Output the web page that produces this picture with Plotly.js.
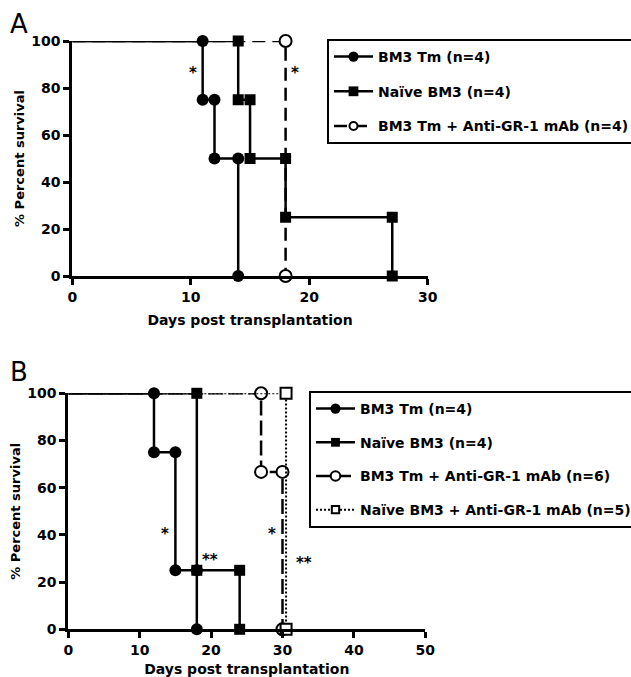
<!DOCTYPE html>
<html><head><meta charset="utf-8">
<script src="https://cdn.plot.ly/plotly-3.0.1.min.js"></script>
<style>html,body{margin:0;padding:0;background:#fff;}#chart{width:631px;height:677px;}</style>
</head><body><div id="chart"></div>
<script>
// ---------- Panel A data (event days and % survival after each event) ----------
const aNames = ["BM3 Tm (n=4)", "Naïve BM3 (n=4)", "BM3 Tm + Anti-GR-1 mAb (n=4)"];
const aTmDays = [11, 12, 14];
const aTmSurv = [75, 50, 0];
const aNaiveDays = [14, 15, 18, 27];
const aNaiveSurv = [75, 50, 25, 0];
const aTmGrDays = [18];
const aTmGrSurv = [0];
const aStarText = ["*", "*"];
const aStarX = [10.2, 18.8];
const aStarY = [88, 88];

// ---------- Panel B data ----------
const bNames = ["BM3 Tm (n=4)", "Naïve BM3 (n=4)", "BM3 Tm + Anti-GR-1 mAb (n=6)", "Naïve BM3 + Anti-GR-1 mAb (n=5)"];
const bTmDays = [12, 15, 18];
const bTmSurv = [75, 25, 0];
const bNaiveDays = [18, 24];
const bNaiveSurv = [25, 0];
const bTmGrDays = [27, 30];
const bTmGrSurv = [66.7, 0];
const bNaiveGrDays = [30.5];
const bNaiveGrSurv = [0];
const bStarText = ["*", "**", "*", "**"];
const bStarX = [13.5, 19.8, 28.5, 33.0];
const bStarY = [42, 31, 42, 30];

// ---------- Axes ticks ----------
const xTicksA = [0, 10, 20, 30];
const xTicksB = [0, 10, 20, 30, 40, 50];
const yTicks = [0, 20, 40, 60, 80, 100];

const FONT = "DejaVu Sans, Arial, sans-serif";
const W = 631, H = 677;

function steps(days, surv) {
  const x = [0], y = [100], show = [0];
  let prev = 100;
  for (let i = 0; i < days.length; i++) {
    x.push(days[i], days[i]);
    y.push(prev, surv[i]);
    show.push(1, 1);
    prev = surv[i];
  }
  return {x, y, show};
}

function km(days, surv, name, st, xa, ya, leg, group) {
  const s = steps(days, surv);
  return {
    type: 'scatter', mode: 'lines+markers', x: s.x, y: s.y, name: name,
    xaxis: xa, yaxis: ya, legend: leg, legendgroup: group, cliponaxis: false,
    line: {color: '#000', width: st.lw, dash: st.dash},
    marker: {symbol: st.symbol, size: s.show.map(v => v * st.ms), color: st.fill, opacity: 1,
             line: {color: '#000', width: st.mlw}}
  };
}

const stTm = {lw: 2.5, dash: 'solid', symbol: 'circle', ms: 12, fill: '#000', mlw: 0};
const stNaive = {lw: 2.5, dash: 'solid', symbol: 'square', ms: 11, fill: '#000', mlw: 0};
const stTmGrA = {lw: 2.5, dash: '13px,7px', symbol: 'circle', ms: 12, fill: '#fff', mlw: 2};
const stTmGrB = {lw: 2.5, dash: '15px,5px', symbol: 'circle', ms: 12, fill: '#fff', mlw: 2};
const stNaiveGr = {lw: 2, dash: '2px,2px', symbol: 'square', ms: 11, fill: '#fff', mlw: 2};

const data = [
  km(aTmDays, aTmSurv, aNames[0], stTm, 'x', 'y', 'legend', 'a1'),
  km(aNaiveDays, aNaiveSurv, aNames[1], stNaive, 'x', 'y', 'legend', 'a2'),
  km(aTmGrDays, aTmGrSurv, aNames[2], stTmGrA, 'x', 'y', 'legend', 'a3'),
  km(bTmDays, bTmSurv, bNames[0], stTm, 'x2', 'y2', 'legend2', 'b1'),
  km(bNaiveDays, bNaiveSurv, bNames[1], stNaive, 'x2', 'y2', 'legend2', 'b2'),
  km(bTmGrDays, bTmGrSurv, bNames[2], stTmGrB, 'x2', 'y2', 'legend2', 'b3'),
  km(bNaiveGrDays, bNaiveGrSurv, bNames[3], stNaiveGr, 'x2', 'y2', 'legend2', 'b4')
];

function axis(extra) {
  return Object.assign({
    showline: true, linecolor: '#000', linewidth: 3, mirror: false,
    ticks: 'outside', ticklen: 6, tickwidth: 3, tickcolor: '#000',
    tickfont: {family: FONT, size: 14, weight: 'bold', color: '#000'},
    showgrid: false, zeroline: false, fixedrange: true
  }, extra);
}
function xTitle(t) { return {text: t, font: {family: FONT, size: 14, weight: 'bold', color: '#000'}, standoff: 12}; }
function yTitle(t) { return {text: t, font: {family: FONT, size: 13, weight: 'bold', color: '#000'}, standoff: 4}; }

const annotations = [];
annotations.push({xref: 'paper', yref: 'paper', x: 8 / W, y: 1 - 24 / H, xanchor: 'left', yanchor: 'middle',
  text: 'A', showarrow: false, font: {family: FONT, size: 26, color: '#000'}});
annotations.push({xref: 'paper', yref: 'paper', x: 8 / W, y: 1 - 372 / H, xanchor: 'left', yanchor: 'middle',
  text: 'B', showarrow: false, font: {family: FONT, size: 26, color: '#000'}});
aStarText.forEach((t, i) => annotations.push({xref: 'x', yref: 'y', x: aStarX[i], y: aStarY[i], text: t,
  showarrow: false, yshift: -4, font: {family: FONT, size: 15, weight: 'bold', color: '#000'}}));
bStarText.forEach((t, i) => annotations.push({xref: 'x2', yref: 'y2', x: bStarX[i], y: bStarY[i], text: t,
  showarrow: false, yshift: -4, font: {family: FONT, size: 15, weight: 'bold', color: '#000'}}));

const legendBase = {
  xanchor: 'left', yanchor: 'top', bordercolor: '#000', borderwidth: 2, bgcolor: '#fff',
  font: {family: FONT, size: 14, weight: 'bold', color: '#000'},
  traceorder: 'grouped', itemwidth: 39
};

const layout = {
  width: W, height: H, paper_bgcolor: '#fff', plot_bgcolor: '#fff',
  margin: {l: 0, r: 0, t: 0, b: 0, autoexpand: false},
  showlegend: true,
  xaxis: axis({domain: [72.3 / W, 427.8 / W], anchor: 'y', range: [0, 30], tickvals: xTicksA, title: xTitle('Days post transplantation')}),
  yaxis: axis({domain: [1 - 276 / H, 1 - 41 / H], anchor: 'x', range: [0, 100], tickvals: yTicks, title: yTitle('% Percent survival')}),
  xaxis2: axis({domain: [68.3 / W, 425.3 / W], anchor: 'y2', range: [0, 50], tickvals: xTicksB, title: xTitle('Days post transplantation')}),
  yaxis2: axis({domain: [1 - 629.3 / H, 1 - 393.3 / H], anchor: 'x2', range: [0, 100], tickvals: yTicks, title: yTitle('% Percent survival')}),
  legend: Object.assign({}, legendBase, {x: 327 / W, y: 1 - 39 / H, tracegroupgap: 13.5}),
  legend2: Object.assign({}, legendBase, {x: 309 / W, y: 1 - 391 / H, tracegroupgap: 12.5}),
  annotations: annotations
};

Plotly.newPlot('chart', data, layout, {staticPlot: true, displayModeBar: false});
</script>
</body></html>
